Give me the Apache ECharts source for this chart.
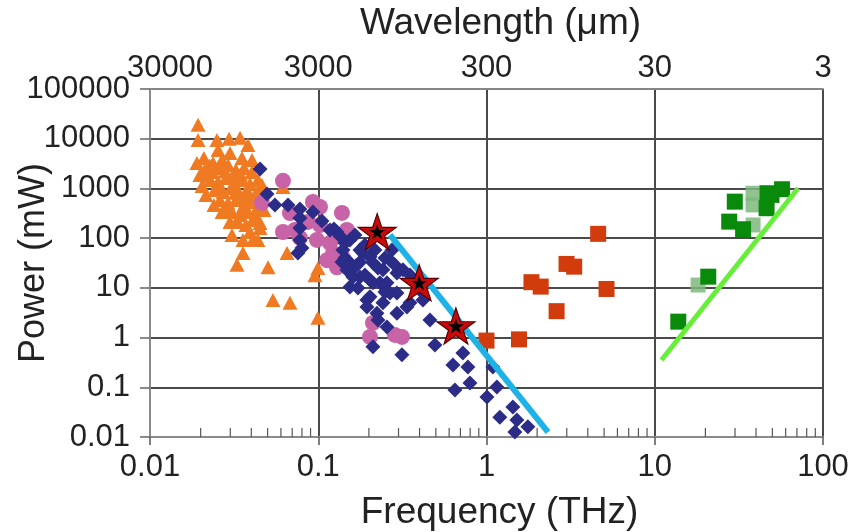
<!DOCTYPE html>
<html>
<head>
<meta charset="utf-8">
<script src="https://cdn.jsdelivr.net/npm/echarts@6/dist/echarts.min.js"></script>
<style>
  html, body { margin: 0; padding: 0; background: #ffffff; }
  #chart { width: 855px; height: 532px; }
</style>
</head>
<body>
<div id="chart"></div>
<script>
// Axis ticks (frequency in THz, power in mW) and their labels
const freqTicks = [0.01, 0.1, 1, 10, 100];
const freqLabels = ['0.01', '0.1', '1', '10', '100'];
const wavelengthLabels = ['30000', '3000', '300', '30', '3'];
const powerTicks = [0.01, 0.1, 1, 10, 100, 1000, 10000, 100000];
const powerLabels = ['0.01', '0.1', '1', '10', '100', '1000', '10000', '100000'];

// [frequency THz, power mW]
const orangeTriangles = [
  [0.0193, 19000], [0.0193, 9460], [0.0250, 9460], [0.0295, 10000], [0.0343, 10400],
  [0.0382, 7500], [0.0190, 3260], [0.0299, 5180], [0.0352, 4110], [0.0404, 3740],
  [0.0212, 2360], [0.0234, 2150], [0.0261, 2580], [0.0291, 2970], [0.0324, 2360],
  [0.0362, 2580], [0.0404, 2150], [0.0227, 1480], [0.0254, 1350], [0.0283, 1630],
  [0.0316, 1290], [0.0352, 1480], [0.0393, 1230], [0.0438, 1480], [0.0243, 933],
  [0.0272, 851], [0.0303, 1020], [0.0338, 811], [0.0377, 933], [0.0421, 740],
  [0.0261, 587], [0.0291, 511], [0.0324, 587], [0.0362, 466], [0.0404, 535],
  [0.0451, 587], [0.0307, 337], [0.0343, 293], [0.0382, 337], [0.0427, 369],
  [0.0333, 212], [0.0372, 184], [0.0415, 232], [0.0451, 160], [0.0393, 133],
  [0.0221, 1790], [0.0204, 1120], [0.0307, 116], [0.0357, 92], [0.0409, 92],
  [0.0617, 1070], [0.0451, 202], [0.0930, 587], [0.0357, 50], [0.0329, 29],
  [0.0503, 26], [0.0652, 50], [0.0956, 18], [0.0996, 25], [0.0538, 5.7],
  [0.0679, 5.0], [0.0996, 2.5],
  [0.0209, 4110], [0.0237, 3260], [0.0268, 3740], [0.0198, 1870], [0.0215, 740],
  [0.0240, 466], [0.0268, 337], [0.0299, 212], [0.0463, 1175], [0.0476, 369],
  [0.0438, 92], [0.0367, 674], [0.0311, 1790], [0.0254, 5950],
  [0.0226, 2900], [0.0280, 2200], [0.0345, 1900], [0.0250, 1100], [0.0322, 820],
  [0.0390, 600], [0.0285, 400], [0.0355, 400], [0.0420, 280], [0.0440, 900]
];

const pinkCircles = [
  [0.0617, 1420], [0.0463, 510], [0.0679, 320], [0.0930, 535], [0.1024, 424],
  [0.1383, 321], [0.0617, 133], [0.0727, 146], [0.0778, 101], [0.0982, 92],
  [0.1174, 80], [0.1223, 50], [0.1402, 40], [0.1127, 36], [0.1481, 146],
  [0.0869, 212], [0.1024, 184], [0.1257, 106], [0.1291, 26], [0.2114, 1.97],
  [0.203, 1.03], [0.2856, 1.13], [0.3143, 1.03]
];

const navyDiamonds = [
  [0.0451, 2470], [0.0496, 775], [0.0553, 466], [0.0661, 466], [0.0778, 387],
  [0.0930, 337], [0.1052, 222], [0.1240, 153], [0.1441, 80], [0.0778, 160],
  [0.0778, 92], [0.0757, 50], [0.0800, 63], [0.1291, 133], [0.1543, 92],
  [0.1844, 50], [0.2114, 32], [0.1402, 58], [0.177, 58], [0.1543, 32],
  [0.203, 42], [0.2424, 23], [0.177, 16.6], [0.1608, 16.6], [0.1543, 10.4],
  [0.203, 14.4], [0.2326, 12.6], [0.2114, 12.6], [0.2560, 12.6], [0.2936, 20],
  [0.3187, 23], [0.2667, 36], [0.2667, 7.9], [0.2936, 7.9], [0.3365, 4.1],
  [0.1947, 5.7], [0.2424, 5.0], [0.203, 6.6], [0.1947, 4.1], [0.2233, 3.1],
  [0.2936, 3.1], [0.2263, 2.26], [0.2560, 1.63], [0.2114, 0.65], [0.3143, 0.45],
  [0.351, 5.0], [0.4189, 5.7], [0.461, 2.26], [0.4936, 0.71], [0.6315, 0.28],
  [0.724, 0.49], [0.775, 0.256], [0.797, 0.122], [0.649, 0.088], [1.006, 0.064],
  [1.153, 0.101], [1.091, 0.256], [1.20, 0.025], [1.435, 0.040], [1.516, 0.022],
  [1.762, 0.016], [1.475, 0.0126], [0.1675, 27.6], [0.1441, 40], [0.1174, 146],
  [0.1346, 111],
  [0.1652, 116], [0.1895, 73], [0.2172, 58], [0.2491, 40], [0.2856, 28.9],
  [0.2263, 25.1], [0.1895, 18.2], [0.2491, 8.27], [0.177, 33.2], [0.1481, 22.9],
  [0.1383, 33.2], [0.1721, 9.95], [0.2741, 58], [0.351, 18.2], [0.402, 9.07],
  [0.0778, 255]
];

const redSquares = [
  [1.00, 0.87], [1.56, 0.92], [2.61, 3.4], [1.85, 13.0], [2.10, 10.6],
  [2.99, 30.3], [3.32, 26.7], [4.61, 122], [5.17, 9.5]
];

const greenSquares = [
  [13.8, 2.09], [20.8, 16.8], [29.9, 542], [27.7, 215], [33.5, 151],
  [46.8, 801], [46.2, 400], [57.1, 963], [49.4, 740]
];
const paleGreenSquares = [
  [38.4, 801], [38.4, 466], [38.4, 184], [18.1, 11.4]
];

const stars = [[0.224, 135], [0.398, 12.7], [0.658, 1.71]];

const blueFit = [[0.267, 116], [2.32, 0.0126]];
const greenFit = [[10.97, 0.354], [71.1, 1009]];

// minor tick positions on the frequency axis (2..9 within each decade)
const minorTicks = [];
for (let i = 0; i < freqTicks.length - 1; i++) {
  for (let k = 2; k <= 9; k++) minorTicks.push([+(freqTicks[i] * k).toPrecision(3), 0.01]);
}

const FONT = 'Liberation Sans, Arial, sans-serif';
const STAR = 'path://M50,0 L61.8,35.1 L98.9,35.1 L69,57 L80.4,92 L50,70.5 L19.6,92 L31,57 L1.1,35.1 L38.2,35.1 Z';

function tickIndex(v, ticks) {
  let best = 0;
  for (let i = 1; i < ticks.length; i++) {
    if (Math.abs(Math.log10(ticks[i]) - Math.log10(v)) < Math.abs(Math.log10(ticks[best]) - Math.log10(v))) best = i;
  }
  return best;
}

function dots(name, data, symbol, size, color, z, opacity) {
  return {
    type: 'scatter', name, data, symbol, symbolSize: size, z,
    itemStyle: { color, opacity: opacity == null ? 1 : opacity },
    emphasis: { disabled: true }
  };
}

const chart = echarts.init(document.getElementById('chart'), null, { renderer: 'canvas' });

chart.setOption({
  animation: false,
  backgroundColor: '#ffffff',
  grid: {
    left: 150, right: 32, top: 89, bottom: 95,
    containLabel: false, outerBoundsMode: 'none',
    show: true, borderColor: '#9a9a9a', borderWidth: 1.5, backgroundColor: 'transparent'
  },
  xAxis: [
    {
      type: 'log', logBase: 10, min: 0.01, max: 100, position: 'bottom',
      name: 'Frequency (THz)', nameLocation: 'middle', nameGap: 57,
      nameTextStyle: { fontFamily: FONT, fontSize: 37, color: '#222', padding: [0, 0, 0, 26] },
      axisLine: { show: true, lineStyle: { color: '#8a8a8a', width: 2 } },
      axisTick: { show: true, length: 8, inside: false, lineStyle: { color: '#555', width: 1.5 } },
      axisLabel: {
        fontFamily: FONT, fontSize: 31, color: '#222', margin: 15,
        formatter: v => freqLabels[tickIndex(v, freqTicks)]
      },
      splitLine: { show: true, lineStyle: { color: '#4a4a4a', width: 2 } },
      minorTick: { show: false }, minorSplitLine: { show: false }
    },
    {
      type: 'log', logBase: 10, min: 0.01, max: 100, position: 'top',
      name: 'Wavelength (\u03bcm)', nameLocation: 'middle', nameGap: 47,
      nameTextStyle: { fontFamily: FONT, fontSize: 37, color: '#222', padding: [0, 0, 0, 28] },
      axisLine: { show: true, lineStyle: { color: '#9a9a9a', width: 1.5 } },
      axisTick: { show: false },
      axisLabel: {
        fontFamily: FONT, fontSize: 31, color: '#222', margin: 5,
        formatter: v => {
          const i = tickIndex(v, freqTicks);
          // the first wavelength label sits a little right of its tick
          return i === 0 ? '{first|' + wavelengthLabels[i] + '}' : wavelengthLabels[i];
        },
        rich: { first: { fontFamily: FONT, fontSize: 31, color: '#222', padding: [0, 0, 0, 40] } }
      },
      splitLine: { show: false }
    }
  ],
  yAxis: {
    type: 'log', logBase: 10, min: 0.01, max: 100000,
    name: 'Power (mW)', nameLocation: 'middle', nameGap: 98, nameRotate: 90,
    nameMoveOverlap: false,
    nameTextStyle: { fontFamily: FONT, fontSize: 36, color: '#222' },
    axisLine: { show: true, lineStyle: { color: '#8a8a8a', width: 2 } },
    axisTick: { show: true, length: 10, inside: false, lineStyle: { color: '#666', width: 1.5 } },
    axisLabel: {
      fontFamily: FONT, fontSize: 31, color: '#222', margin: 20,
      formatter: v => powerLabels[tickIndex(v, powerTicks)]
    },
    splitLine: { show: true, lineStyle: { color: '#4a4a4a', width: 2 } }
  },
  series: [
    {
      type: 'custom', name: 'minor ticks', data: minorTicks, clip: false, z: 1,
      encode: { x: 0, y: 1 }, silent: true,
      renderItem: (params, api) => {
        const p = api.coord([api.value(0), api.value(1)]);
        return { type: 'line', shape: { x1: p[0], y1: p[1], x2: p[0], y2: p[1] - 9 },
                 style: { stroke: '#555', lineWidth: 1.2 } };
      }
    },
    dots('orange', orangeTriangles, 'triangle', [15, 14], '#F07A22', 2),
    dots('pink', pinkCircles, 'circle', 16, '#C963A8', 3),
    dots('navy', navyDiamonds, 'diamond', 15, '#2B2C88', 4),
    dots('red', redSquares, 'rect', 16, '#D23C0C', 4),
    dots('pale green', paleGreenSquares, 'rect', 15, '#7EB87E', 4, 0.85),
    dots('green', greenSquares, 'rect', 16, '#0A8A0A', 5),
    {
      type: 'line', name: 'blue fit', data: blueFit, showSymbol: false, symbol: 'none',
      lineStyle: { color: '#1EB2E6', width: 6, cap: 'butt' }, z: 6, emphasis: { disabled: true }
    },
    {
      type: 'line', name: 'green fit', data: greenFit, showSymbol: false, symbol: 'none',
      lineStyle: { color: '#66EE3A', width: 5, cap: 'butt' }, z: 6, emphasis: { disabled: true }
    },
    {
      type: 'scatter', name: 'stars', data: stars, symbol: STAR, symbolSize: [38, 36], z: 7,
      itemStyle: { color: '#C80A0A', borderColor: '#5A0000', borderWidth: 1.2, opacity: 1 },
      emphasis: { disabled: true }
    },
    {
      type: 'scatter', name: 'star cores', data: stars, symbol: STAR, symbolSize: [16, 15], z: 8,
      itemStyle: { color: '#000000', opacity: 1 }, emphasis: { disabled: true }
    }
  ]
});
</script>
</body>
</html>
